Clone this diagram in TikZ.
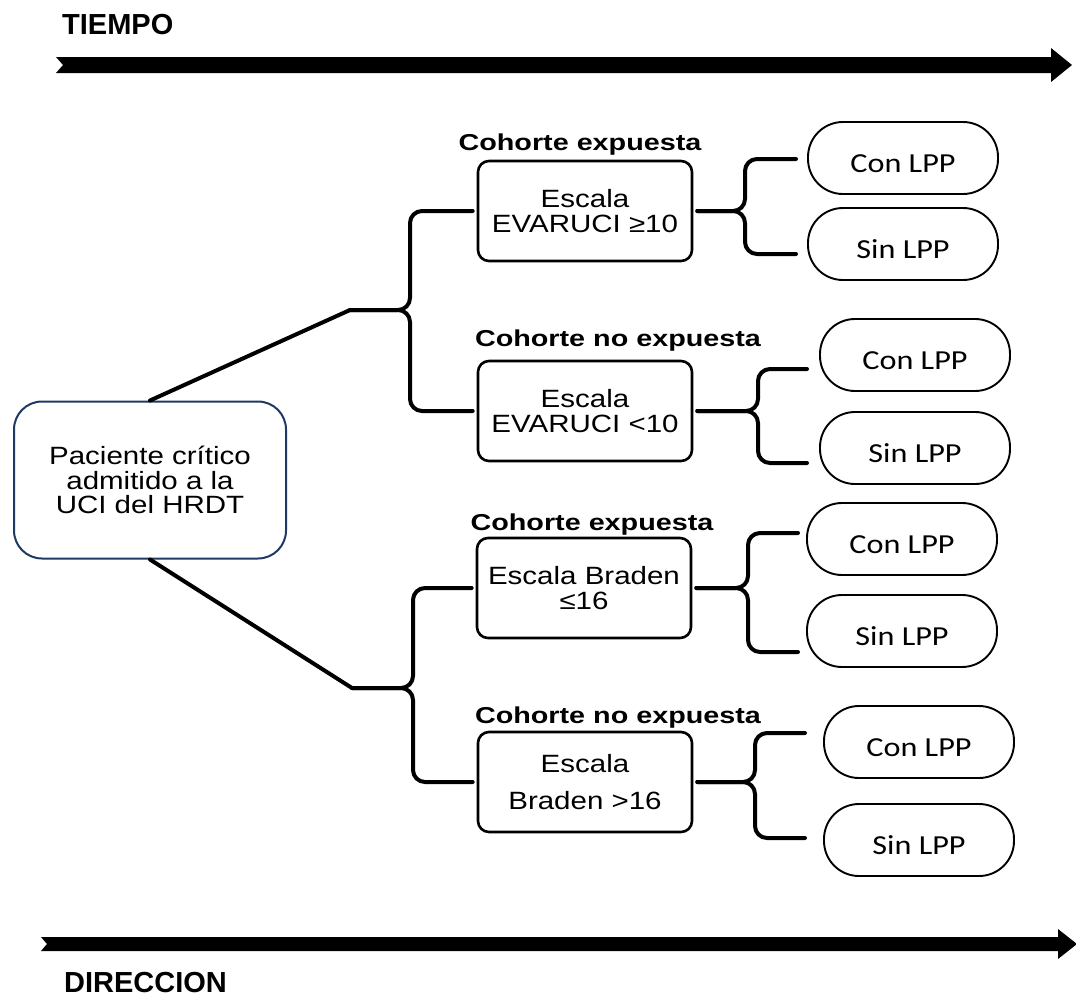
\documentclass[tikz,border=0pt]{standalone}
\usepackage{fontspec}
\setmainfont{Liberation Sans}
\newfontfamily\widefont{Liberation Sans}[FakeStretch=1.18]
\newfontfamily\cohfont{Liberation Sans}[FakeStretch=1.25]
\newfontfamily\lppfont{Carlito}[FakeStretch=1.17]
\usetikzlibrary{positioning}
\definecolor{navy}{RGB}{31,56,100}

\begin{document}
\begin{tikzpicture}[x=1pt,y=-1pt,line cap=round,line join=round,
  every node/.style={inner sep=1pt},
  titulo/.style={anchor=west,font=\bfseries\fontsize{29}{31}\selectfont},
  pacbox/.style={draw=navy,line width=2pt,rounded corners=28pt,minimum width=272pt,minimum height=157pt,align=center,font=\widefont\fontsize{25}{24.5}\selectfont},
  escbox/.style={draw,line width=2.6pt,rounded corners=11pt,minimum width=214pt,minimum height=100pt,align=center,font=\widefont\fontsize{25}{24.5}\selectfont},
  lppbox/.style={draw,line width=1.9pt,rounded corners=35pt,minimum width=190pt,minimum height=72pt,text height=29pt,text depth=0pt,font=\lppfont\fontsize{27.5}{29}\selectfont},
  cohlab/.style={font=\cohfont\bfseries\fontsize{23}{25}\selectfont},
  conn/.style={line width=4pt},
  brace/.style={line width=4pt,rounded corners=12pt}]
  \useasboundingbox (0,0) rectangle (1076,1001);
  \node[titulo] (tiempo) at (61,25) {TIEMPO};
  \fill (56,57) -- (1051,57) -- (1051,48) -- (1072,65) -- (1051,82) -- (1051,73) -- (56,73) -- (63,65) -- cycle;
  \node[titulo] (direccion) at (63,983) {DIRECCION};
  \fill (41,937) -- (1058,937) -- (1058,929) -- (1077,944) -- (1058,959) -- (1058,951) -- (41,951) -- (47,944) -- cycle;
  \node[pacbox] (pac) at (150,480) {Paciente crítico\\admitido a la\\UCI del HRDT};
  \node[escbox] (esc1) at (585,211) {Escala\\EVARUCI ≥10};
  \node[escbox] (esc2) at (585,411) {Escala\\EVARUCI <10};
  \node[escbox] (esc3) at (584,588) {Escala Braden\\≤16};
  \node[escbox] (esc4) at (585,782) {Escala\\[12pt]Braden >16};
  \node[cohlab] (coh1) at (580,145) {Cohorte expuesta};
  \node[cohlab] (coh2) at (618,341) {Cohorte no expuesta};
  \node[cohlab] (coh3) at (592,525) {Cohorte expuesta};
  \node[cohlab] (coh4) at (618,718) {Cohorte no expuesta};
  \foreach \n/\xc/\yc/\yd in {1/903/158/244,2/915/355/448,3/902/539/631,4/919/742/840}{
    \node[lppbox] (con\n) at (\xc,\yc) {Con LPP};
    \node[lppbox] (sin\n) at (\xc,\yd) {Sin LPP};
  }
  \coordinate (tA) at (350,310);
  \coordinate (tB) at (352,688);
  \coordinate (vA) at (410,0);
  \coordinate (vB) at (413,0);
  \draw[conn] (pac.north) -- (tA);
  \draw[conn] (pac.south) -- (tB);
  \draw[brace] (tA) -- (tA -| vA) |- ([xshift=-4pt]esc1.west);
  \draw[brace] (tA) -- (tA -| vA) |- ([xshift=-4pt]esc2.west);
  \draw[brace] (tB) -- (tB -| vB) |- ([xshift=-4pt]esc3.west);
  \draw[brace] (tB) -- (tB -| vB) |- ([xshift=-4pt]esc4.west);
  \foreach \n/\vx/\ya/\yb/\xe in {1/745/159/254/796,2/758/369/463/807,3/748/533/652/798,4/755/733/838/805}{
    \coordinate (v\n) at (\vx,0);
    \coordinate (arm\n u) at (\xe,\ya);
    \coordinate (arm\n d) at (\xe,\yb);
    \draw[brace] ([xshift=4pt]esc\n.east) -- (esc\n.east -| v\n) |- (arm\n u);
    \draw[brace] ([xshift=4pt]esc\n.east) -- (esc\n.east -| v\n) |- (arm\n d);
  }
\end{tikzpicture}
\end{document}
